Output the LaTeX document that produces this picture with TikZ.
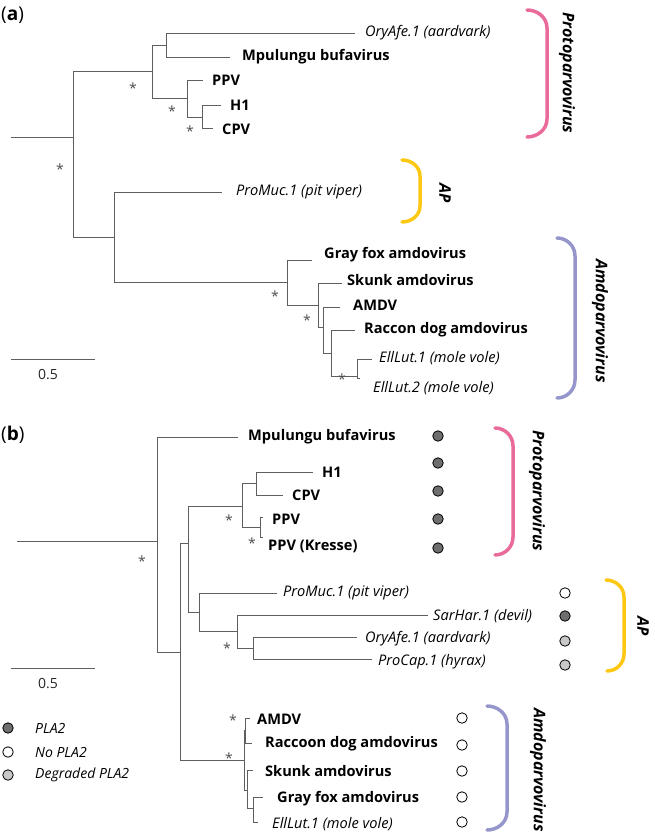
\documentclass[tikz,border=0pt]{standalone}
\usepackage{fontspec}
\setmainfont{Open Sans}
\definecolor{br}{RGB}{95,95,95}
\definecolor{pinkc}{RGB}{233,107,155}
\definecolor{yelc}{RGB}{253,200,20}
\definecolor{purc}{RGB}{150,150,205}
\definecolor{dk}{RGB}{110,110,110}
\definecolor{lt}{RGB}{200,200,200}
\begin{document}
\begin{tikzpicture}[x=1pt,y=-1pt,
  tree/.style={draw=br, line width=0.9pt},
  lab/.style={anchor=west, inner sep=0pt, font=\fontsize{14.6}{16}\selectfont\bfseries},
  labi/.style={anchor=west, inner sep=0pt, font=\fontsize{14.6}{16}\selectfont\itshape},
  legi/.style={anchor=west, inner sep=0pt, font=\fontsize{14}{16}\selectfont\itshape},
  ast/.style={inner sep=0pt, text=black!70, font=\fontsize{14}{14}\selectfont},
  brk/.style={line width=3.5pt, line cap=round},
  clab/.style={inner sep=0pt, rotate=-90, font=\fontsize{16}{16}\selectfont\bfseries\itshape},
  dot/.style={circle, draw=black, line width=0.8pt, minimum size=10.5pt, inner sep=0pt},
  scl/.style={inner sep=0pt, text=black!85, font=\fontsize{14}{14}\selectfont},
  plab/.style={anchor=west, inner sep=0pt, font=\fontsize{19}{19}\selectfont}
]
\useasboundingbox (0,0) rectangle (654,838);

% ================= panel (a) =================
\node[plab] (pa) at (1,15) {(\textbf{a})};
\coordinate (a0) at (11,137);
\coordinate (ar) at (73,137);
\coordinate (a1) at (152,71);
\coordinate (a2) at (166,45);
\coordinate (a3) at (187,98);
\coordinate (a4) at (202,117);
\coordinate (a6) at (114,237);
\coordinate (a7) at (287,282);
\coordinate (a8) at (318,305);
\coordinate (a9) at (323,327);
\coordinate (a10) at (331,353);
\coordinate (a11) at (357,376);
\coordinate (tOryA) at (355,33);
\coordinate (tMpuA) at (230,57);
\coordinate (tPPVA) at (203,80);
\coordinate (tH1A) at (221,105);
\coordinate (tCPVA) at (213,128);
\coordinate (tProA) at (222,192);
\coordinate (tGfA) at (312,260);
\coordinate (tSkA) at (342,283);
\coordinate (tAmA) at (340,307);
\coordinate (tRdA) at (355,330);
\coordinate (tE1A) at (372,359);
\coordinate (tE2A) at (360,378);

\draw[tree] (a0) -- (ar);
\draw[tree] (ar) |- (a1);
\draw[tree] (ar) |- (a6);
\draw[tree] (a1) |- (a2);
\draw[tree] (a1) |- (a3);
\draw[tree] (a2) |- (tOryA);
\draw[tree] (a2) |- (tMpuA);
\draw[tree] (a3) |- (tPPVA);
\draw[tree] (a3) |- (a4);
\draw[tree] (a4) |- (tH1A);
\draw[tree] (a4) |- (tCPVA);
\draw[tree] (a6) |- (tProA);
\draw[tree] (a6) |- (a7);
\draw[tree] (a7) |- (tGfA);
\draw[tree] (a7) |- (a8);
\draw[tree] (a8) |- (tSkA);
\draw[tree] (a8) |- (a9);
\draw[tree] (a9) |- (tAmA);
\draw[tree] (a9) |- (a10);
\draw[tree] (a10) |- (tRdA);
\draw[tree] (a10) |- (a11);
\draw[tree] (a11) |- (tE1A);
\draw[tree] (a11) |- (tE2A);

\node[labi] (lOryA) at (365,33) {OryAfe.1 (aardvark)};
\node[lab] (lMpuA) at (242,57) {Mpulungu bufavirus};
\node[lab] (lPPVA) at (212,80) {PPV};
\node[lab] (lH1A) at (230,105) {H1};
\node[lab] (lCPVA) at (222,129) {CPV};
\node[labi] (lProA) at (236,192) {ProMuc.1 (pit viper)};
\node[lab] (lGfA) at (324,255) {Gray fox amdovirus};
\node[lab] (lSkA) at (347,280) {Skunk amdovirus};
\node[lab] (lAmA) at (353,305) {AMDV};
\node[lab] (lRdA) at (364,330) {Raccon dog amdovirus};
\node[labi] (lE1A) at (379,358) {EllLut.1 (mole vole)};
\node[labi] (lE2A) at (373,388) {EllLut.2 (mole vole)};

\node[ast] (sA1) at (133,88) {*};
\node[ast] (sA2) at (172,111) {*};
\node[ast] (sA3) at (190,131) {*};
\node[ast] (sA4) at (60,169) {*};
\node[ast] (sA5) at (275,296) {*};
\node[ast] (sA6) at (307,320) {*};
\node[ast] (sA7) at (342,379) {*};

\coordinate (sbA1) at (11,359);
\coordinate (sbA2) at (95,359);
\draw[tree] (sbA1) -- (sbA2);
\node[scl] (sbAt) at (48,375) {0.5};

\draw[brk, pinkc] (527,10) to[out=0,in=90] (547,28) -- (547,119) to[out=-90,in=0] (527,137);
\draw[brk, yelc] (402,160) to[out=0,in=90] (420,176) -- (420,206) to[out=-90,in=0] (402,222);
\draw[brk, purc] (557,238) to[out=0,in=90] (575,256) -- (575,380) to[out=-90,in=0] (557,398);
\node[clab] (cPA) at (567,73) {Protoparvovirus};
\node[clab] (cAPA) at (445,193) {AP};
\node[clab] (cAmA) at (600,321) {Amdoparvovirus};

% ================= panel (b) =================
\node[plab] (pb) at (1,435) {(\textbf{b})};
\coordinate (b0) at (17,541);
\coordinate (brt) at (157,541);
\coordinate (b1) at (180,652);
\coordinate (b2) at (188,543);
\coordinate (b3) at (242,506);
\coordinate (b4) at (256,483);
\coordinate (b5) at (260,527);
\coordinate (b6) at (199,612);
\coordinate (b7) at (237,631);
\coordinate (b8) at (253,648);
\coordinate (b10) at (244,760);
\coordinate (b11) at (245,730);
\coordinate (b12) at (247,790);
\coordinate (b13) at (253,808);
\coordinate (tMpuB) at (238,437);
\coordinate (tH1B) at (313,472);
\coordinate (tCPVB) at (283,495);
\coordinate (tPPVB) at (263,517);
\coordinate (tPPKB) at (263,537);
\coordinate (tProB) at (277,593);
\coordinate (tSarB) at (428,615);
\coordinate (tOryB) at (357,637);
\coordinate (tCapB) at (372,659);
\coordinate (tAmB) at (250,718);
\coordinate (tRdB) at (252,743);
\coordinate (tSkB) at (253,770);
\coordinate (tGfB) at (263,797);
\coordinate (tE1B) at (258,822);

\draw[tree] (b0) -- (brt);
\draw[tree] (brt) |- (tMpuB);
\draw[tree] (brt) |- (b1);
\draw[tree] (b1) |- (b2);
\draw[tree] (b1) |- (b10);
\draw[tree] (b2) |- (b3);
\draw[tree] (b2) |- (b6);
\draw[tree] (b3) |- (b4);
\draw[tree] (b3) |- (b5);
\draw[tree] (b4) |- (tH1B);
\draw[tree] (b4) |- (tCPVB);
\draw[tree] (b5) |- (tPPVB);
\draw[tree] (b5) |- (tPPKB);
\draw[tree] (b6) |- (tProB);
\draw[tree] (b6) |- (b7);
\draw[tree] (b7) |- (tSarB);
\draw[tree] (b7) |- (b8);
\draw[tree] (b8) |- (tOryB);
\draw[tree] (b8) |- (tCapB);
\draw[tree] (b10) |- (b11);
\draw[tree] (b10) |- (b12);
\draw[tree] (b11) |- (tAmB);
\draw[tree] (b11) |- (tRdB);
\draw[tree] (b12) |- (tSkB);
\draw[tree] (b12) |- (b13);
\draw[tree] (b13) |- (tGfB);
\draw[tree] (b13) |- (tE1B);

\node[lab] (lMpuB) at (248,437) {Mpulungu bufavirus};
\node[lab] (lH1B) at (322,472) {H1};
\node[lab] (lCPVB) at (292,495) {CPV};
\node[lab] (lPPVB) at (272,519) {PPV};
\node[lab] (lPPKB) at (268,546) {PPV (Kresse)};
\node[labi] (lProB) at (283,593) {ProMuc.1 (pit viper)};
\node[labi] (lSarB) at (433,616) {SarHar.1 (devil)};
\node[labi] (lOryB) at (365,639) {OryAfe.1 (aardvark)};
\node[labi] (lCapB) at (378,662) {ProCap.1 (hyrax)};
\node[lab] (lAmB) at (257,719) {AMDV};
\node[lab] (lRdB) at (265,744) {Raccoon dog amdovirus};
\node[lab] (lSkB) at (265,771) {Skunk amdovirus};
\node[lab] (lGfB) at (277,799) {Gray fox amdovirus};
\node[labi] (lE1B) at (272,824) {EllLut.1 (mole vole)};

\node[ast] (sB1) at (229,520) {*};
\node[ast] (sB2) at (252,543) {*};
\node[ast] (sB3) at (142,561) {*};
\node[ast] (sB4) at (227,648) {*};
\node[ast] (sB5) at (233,720) {*};
\node[ast] (sB6) at (229,758) {*};

% PLA2 dots
\node[dot, fill=dk] (dB1) at (438,436) {};
\node[dot, fill=dk] (dB2) at (438,463) {};
\node[dot, fill=dk] (dB3) at (438,491) {};
\node[dot, fill=dk] (dB4) at (438,519) {};
\node[dot, fill=dk] (dB5) at (438,548) {};
\node[dot, fill=white] (dB6) at (565,593) {};
\node[dot, fill=dk] (dB7) at (565,616) {};
\node[dot, fill=lt] (dB8) at (565,641) {};
\node[dot, fill=lt] (dB9) at (565,665) {};
\node[dot, fill=white] (dB10) at (462,718) {};
\node[dot, fill=white] (dB11) at (462,745) {};
\node[dot, fill=white] (dB12) at (462,771) {};
\node[dot, fill=white] (dB13) at (462,797) {};
\node[dot, fill=white] (dB14) at (462,822) {};

\coordinate (sbB1) at (11,668);
\coordinate (sbB2) at (95,668);
\draw[tree] (sbB1) -- (sbB2);
\node[scl] (sbBt) at (48,684) {0.5};

% legend
\node[dot, fill=dk] (gL1) at (8,728) {};
\node[dot, fill=white] (gL2) at (8,752) {};
\node[dot, fill=lt] (gL3) at (8,775) {};
\node[legi] (tL1) at (35,728) {PLA2};
\node[legi] (tL2) at (35,752) {No PLA2};
\node[legi] (tL3) at (35,775) {Degraded PLA2};

\draw[brk, pinkc] (495,428) to[out=0,in=90] (513,446) -- (513,537) to[out=-90,in=0] (495,555);
\draw[brk, yelc] (606,580) to[out=0,in=90] (624,597) -- (624,654) to[out=-90,in=0] (607,671);
\draw[brk, purc] (487,706) to[out=0,in=90] (507,724) -- (507,812) to[out=-90,in=0] (487,830);
\node[clab] (cPB) at (537,491) {Protoparvovirus};
\node[clab] (cAPB) at (643,626) {AP};
\node[clab] (cAmB) at (538,770) {Amdoparvovirus};
\end{tikzpicture}
\end{document}
